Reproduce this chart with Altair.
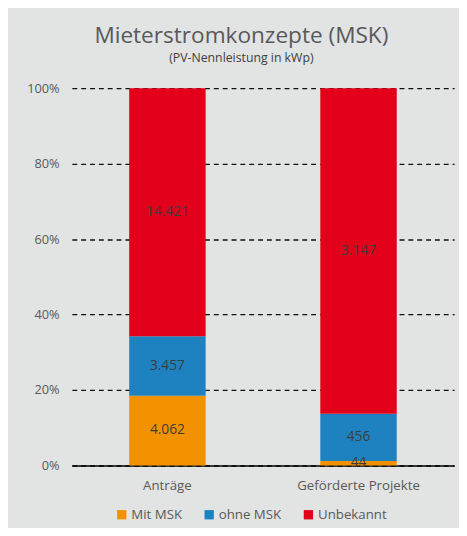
import altair as alt
import pandas as pd

categories = ["Anträge", "Geförderte Projekte"]
series = ["Mit MSK", "ohne MSK", "Unbekannt"]
mit_msk = [4062, 44]
ohne_msk = [3457, 456]
unbekannt = [14421, 3147]
colors = ["#f39200", "#1f82c0", "#e2001a"]

rows = []
for i, c in enumerate(categories):
    for j, (s, vals) in enumerate(zip(series, [mit_msk, ohne_msk, unbekannt])):
        v = vals[i]
        rows.append({"cat": c, "series": s, "idx": j, "value": v,
                     "label": f"{v:,}".replace(",", ".")})
df = pd.DataFrame(rows)

FONT = "Open Sans"
GRAY = "#595959"

base = alt.Chart(df).transform_stack(
    stack="value", as_=["y0", "y1"], groupby=["cat"],
    sort=[alt.SortField("idx")], offset="normalize"
).transform_calculate(mid="(datum.y0 + datum.y1) / 2")

xenc = alt.X("cat:N", sort=categories, title=None,
             scale=alt.Scale(paddingInner=0.6, paddingOuter=0.3),
             axis=alt.Axis(labelAngle=0, ticks=False, domainColor="#000000",
                           domainWidth=1.5, labelPadding=13, labelFontSize=13.5,
                           labelColor=GRAY, labelFont=FONT, grid=False))

bars = base.mark_bar().encode(
    x=xenc,
    y=alt.Y("y0:Q", scale=alt.Scale(domain=[0, 1]), title=None,
            axis=alt.Axis(format=".0%", values=[0, 0.2, 0.4, 0.6, 0.8, 1.0],
                          domain=False, ticks=False, grid=True,
                          gridColor="#111111", gridDash=[5, 4], gridWidth=1.3,
                          labelPadding=13, labelFontSize=13, labelColor=GRAY,
                          labelFont=FONT)),
    y2="y1:Q",
    color=alt.Color("series:N", sort=series,
                    scale=alt.Scale(domain=series, range=colors),
                    legend=alt.Legend(title=None, orient="none", direction="horizontal",
                                      legendX=44, legendY=427, symbolType="square",
                                      symbolSize=90, symbolStrokeWidth=0,
                                      labelFontSize=13.5, labelColor=GRAY, labelFont=FONT,
                                      labelOffset=3, columnPadding=20)),
    order=alt.Order("idx:Q"),
)

texts = base.mark_text(fontSize=14, color="#3d3d3d", font=FONT, fontWeight=500).encode(
    x=alt.X("cat:N", sort=categories),
    y=alt.Y("mid:Q"),
    text="label:N",
)

chart = alt.layer(bars, texts).properties(
    width=389, height=384,
    autosize=alt.AutoSizeParams(type="none"),
    padding={"left": 65, "top": 77, "right": 5, "bottom": 59},
    background="#e2e3e3",
    title=alt.TitleParams(
        "Mieterstromkonzepte (MSK)",
        subtitle="(PV-Nennleistung in kWp)",
        anchor="middle", dx=-22, offset=18,
        fontSize=23, font=FONT, fontWeight="normal", color=GRAY,
        subtitleFontSize=12.5, subtitleFont=FONT, subtitleColor="#404040",
        subtitlePadding=5,
    ),
).configure_view(stroke=None)

chart.save("out.html", embed_options={"renderer": "svg", "actions": False})
